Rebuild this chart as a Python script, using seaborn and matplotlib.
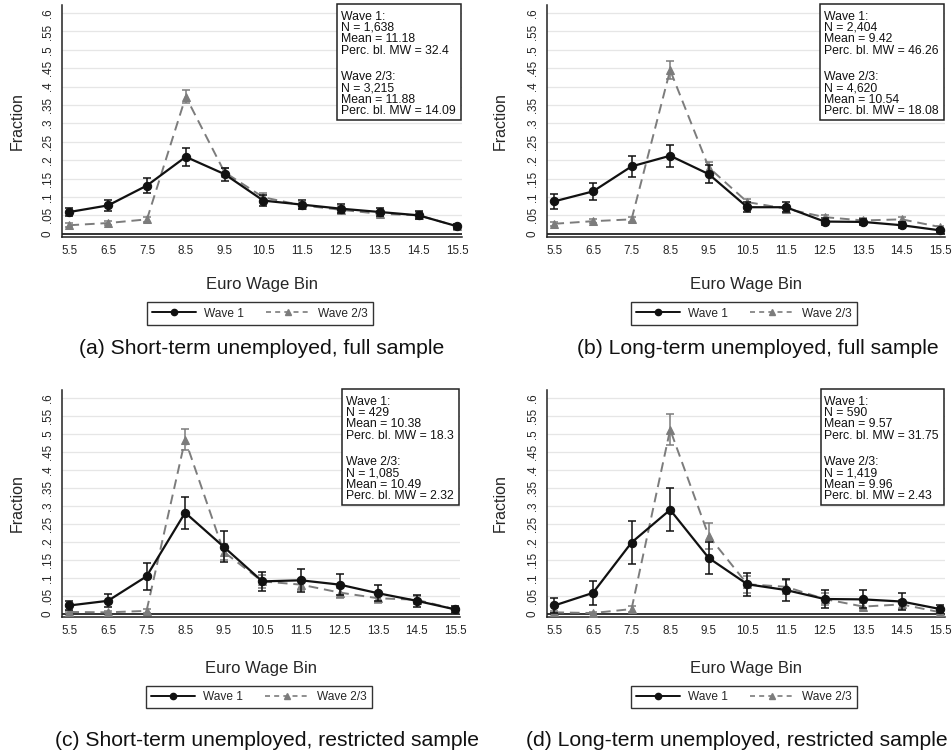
import numpy as np
import pandas as pd
import matplotlib
matplotlib.use("Agg")
import matplotlib.pyplot as plt
import seaborn as sns
from matplotlib.lines import Line2D
from matplotlib.patches import Rectangle

# ---------------- data ----------------
bins = [5.5, 6.5, 7.5, 8.5, 9.5, 10.5, 11.5, 12.5, 13.5, 14.5, 15.5]
xtick_labels = ["5.5", "6.5", "7.5", "8.5", "9.5", "10.5", "11.5", "12.5", "13.5", "14.5", "15.5"]
ytick_vals = [0, .05, .1, .15, .2, .25, .3, .35, .4, .45, .5, .55, .6]
ytick_labels = ["0", ".05", ".1", ".15", ".2", ".25", ".3", ".35", ".4", ".45", ".5", ".55", ".6"]
series_names = ["Wave 1", "Wave 2/3"]

a_w1 = [0.059, 0.077, 0.131, 0.209, 0.162, 0.090, 0.079, 0.068, 0.059, 0.050, 0.020]
a_w1_err = [0.012, 0.014, 0.020, 0.025, 0.018, 0.014, 0.013, 0.012, 0.012, 0.011, 0.007]
a_w23 = [0.023, 0.029, 0.039, 0.373, 0.167, 0.099, 0.077, 0.065, 0.054, 0.050, 0.020]
a_w23_err = [0.005, 0.006, 0.007, 0.017, 0.013, 0.011, 0.009, 0.009, 0.008, 0.008, 0.005]

b_w1 = [0.088, 0.115, 0.183, 0.212, 0.162, 0.072, 0.072, 0.033, 0.032, 0.023, 0.009]
b_w1_err = [0.020, 0.023, 0.029, 0.030, 0.024, 0.013, 0.013, 0.010, 0.009, 0.008, 0.005]
b_w23 = [0.027, 0.034, 0.039, 0.445, 0.180, 0.086, 0.068, 0.045, 0.036, 0.039, 0.018]
b_w23_err = [0.005, 0.005, 0.006, 0.025, 0.015, 0.009, 0.008, 0.007, 0.006, 0.006, 0.004]

c_w1 = [0.023, 0.036, 0.104, 0.281, 0.186, 0.090, 0.093, 0.081, 0.057, 0.036, 0.012]
c_w1_err = [0.013, 0.018, 0.037, 0.044, 0.043, 0.027, 0.032, 0.030, 0.022, 0.017, 0.009]
c_w23 = [0.005, 0.004, 0.008, 0.484, 0.172, 0.090, 0.081, 0.059, 0.043, 0.039, 0.012]
c_w23_err = [0.003, 0.003, 0.005, 0.030, 0.022, 0.017, 0.016, 0.014, 0.012, 0.011, 0.006]

d_w1 = [0.023, 0.058, 0.198, 0.289, 0.155, 0.082, 0.066, 0.041, 0.040, 0.034, 0.013]
d_w1_err = [0.020, 0.033, 0.059, 0.060, 0.045, 0.032, 0.031, 0.025, 0.025, 0.023, 0.012]
d_w23 = [0.004, 0.002, 0.013, 0.512, 0.216, 0.082, 0.075, 0.041, 0.020, 0.026, 0.004]
d_w23_err = [0.003, 0.002, 0.009, 0.043, 0.035, 0.023, 0.020, 0.017, 0.010, 0.013, 0.004]

captions = ["(a) Short-term unemployed, full sample",
            "(b) Long-term unemployed, full sample",
            "(c) Short-term unemployed, restricted sample",
            "(d) Long-term unemployed, restricted sample"]

info_n1 = ["1,638", "2,404", "429", "590"]
info_mean1 = ["11.18", "9.42", "10.38", "9.57"]
info_mw1 = ["32.4", "46.26", "18.3", "31.75"]
info_n2 = ["3,215", "4,620", "1,085", "1,419"]
info_mean2 = ["11.88", "10.54", "10.49", "9.96"]
info_mw2 = ["14.09", "18.08", "2.32", "2.43"]

panels = [(a_w1, a_w1_err, a_w23, a_w23_err),
          (b_w1, b_w1_err, b_w23, b_w23_err),
          (c_w1, c_w1_err, c_w23, c_w23_err),
          (d_w1, d_w1_err, d_w23, d_w23_err)]

# ---------------- style ----------------
sns.set_style("white")
plt.rcParams["font.family"] = ["Liberation Sans", "DejaVu Sans"]

W, H = 953, 753
fig = plt.figure(figsize=(W / 100, H / 100), dpi=100)
renderer = fig.canvas.get_renderer()

# axes boxes in pixels: left, right, top, bottom
boxes = [(62, 462, 5, 237), (547, 945, 5, 237), (62, 460, 390, 617), (547, 945, 390, 617)]
caption_pos = [(262, 348), (758, 348), (267, 740), (737, 740)]
legend_y = [313.5, 313.5, 697, 697]
xlabel_y = [285, 285, 669, 669]
info_baselines = [15.7, 27.0, 38.3, 49.6, 76.0, 87.3, 98.6, 110.0]

BLACK = "#111111"
GRAY = "#7c7c7c"

for i, (box, data) in enumerate(zip(boxes, panels)):
    L, R, T, B = box
    ax = fig.add_axes([L / W, 1 - B / H, (R - L) / W, (B - T) / H])
    w1, w1e, w23, w23e = data

    df = pd.DataFrame({"bin": bins * 2,
                       "frac": list(w1) + list(w23),
                       "wave": [series_names[0]] * len(bins) + [series_names[1]] * len(bins)})

    for y in ytick_vals[1:]:
        ax.axhline(y, color="#e6e6e6", lw=0.9, zorder=0)
    ax.axhline(0, color="#222222", lw=1.3, zorder=1)

    # Wave 2/3 (gray dashed, triangles)
    d23 = df[df.wave == series_names[1]]
    sns.lineplot(data=d23, x="bin", y="frac", ax=ax, color=GRAY, lw=1.4,
                 marker="^", markersize=6, markeredgecolor=GRAY, linestyle=(0, (5, 3)),
                 legend=False, zorder=3)
    ax.errorbar(bins, w23, yerr=w23e, fmt="none", ecolor=GRAY, elinewidth=1.1,
                capsize=3, capthick=1.1, zorder=3)

    # Wave 1 (black solid, circles)
    d1 = df[df.wave == series_names[0]]
    sns.lineplot(data=d1, x="bin", y="frac", ax=ax, color=BLACK, lw=1.6,
                 marker="o", markersize=6, markeredgecolor=BLACK,
                 legend=False, zorder=4)
    ax.errorbar(bins, w1, yerr=w1e, fmt="none", ecolor=BLACK, elinewidth=1.1,
                capsize=3, capthick=1.1, zorder=4)

    ax.set_xlim(5.31, 15.62)
    ax.set_ylim(-0.009, 0.622)
    ax.set_xticks(bins)
    ax.set_xticklabels(xtick_labels, fontsize=8.4)
    ax.set_yticks(ytick_vals)
    ax.set_yticklabels(ytick_labels, rotation=90, va="center", fontsize=8.4)
    ax.tick_params(axis="both", direction="out", length=4, width=0.9, color="#222222")
    ax.tick_params(axis="x", pad=2)
    ax.tick_params(axis="y", pad=2)
    for s in ["top", "right"]:
        ax.spines[s].set_visible(False)
    for s in ["left", "bottom"]:
        ax.spines[s].set_color("#222222")
        ax.spines[s].set_linewidth(1.1)

    ax.set_xlabel("Euro Wage Bin", fontsize=12)
    ax.xaxis.set_label_coords(0.5, (B - xlabel_y[i]) / (B - T))
    ax.xaxis.label.set_va("center")
    ax.set_ylabel("Fraction", fontsize=11.5)
    ylab_x = 17 if i % 2 == 0 else 500
    ax.yaxis.set_label_coords((ylab_x - L) / (R - L), 0.5)
    ax.yaxis.label.set_va("center")

    # info box, line by line
    lines = ["Wave 1:", "N = " + info_n1[i], "Mean = " + info_mean1[i], "Perc. bl. MW = " + info_mw1[i],
             "Wave 2/3:", "N = " + info_n2[i], "Mean = " + info_mean2[i], "Perc. bl. MW = " + info_mw2[i]]
    probe = [fig.text(0, 0, s, fontsize=8.8) for s in lines]
    maxw = max(t.get_window_extent(renderer).width for t in probe)
    for t in probe:
        t.remove()
    box_right = R - 1
    box_left = box_right - maxw - 9
    box_top, box_bot = T - 1, T + 115
    ax.add_patch(Rectangle(((box_left - L) / (R - L), (B - box_bot) / (B - T)),
                           (box_right - box_left) / (R - L), (box_bot - box_top) / (B - T),
                           transform=ax.transAxes, fc="white", ec="#222222", lw=1.1,
                           zorder=6, clip_on=False))
    for s, yb in zip(lines, info_baselines):
        ax.text((box_left + 4 - L) / (R - L), (B - (T + yb - 1)) / (B - T), s,
                transform=ax.transAxes, ha="left", va="baseline", fontsize=8.8,
                color="#111111", zorder=7)

    handles = [Line2D([], [], color=BLACK, lw=1.4, marker="o", markersize=4.5),
               Line2D([], [], color=GRAY, lw=1.2, linestyle=(0, (3, 2.5)), marker="^", markersize=4.5)]
    cx = (L + R) / 2 - 2
    ax.legend(handles, series_names, loc="center", ncol=2,
              bbox_to_anchor=(cx / W, 1 - legend_y[i] / H), bbox_transform=fig.transFigure,
              frameon=True, fancybox=False, edgecolor="#333333", framealpha=1,
              fontsize=8.6, handlelength=3.7, columnspacing=1.8, handletextpad=0.7,
              borderpad=0.45, borderaxespad=0)

    fig.text(caption_pos[i][0] / W, 1 - caption_pos[i][1] / H, captions[i],
             ha="center", va="center", fontsize=15.2, color="#111111")

fig.savefig("out.png", dpi=100)
